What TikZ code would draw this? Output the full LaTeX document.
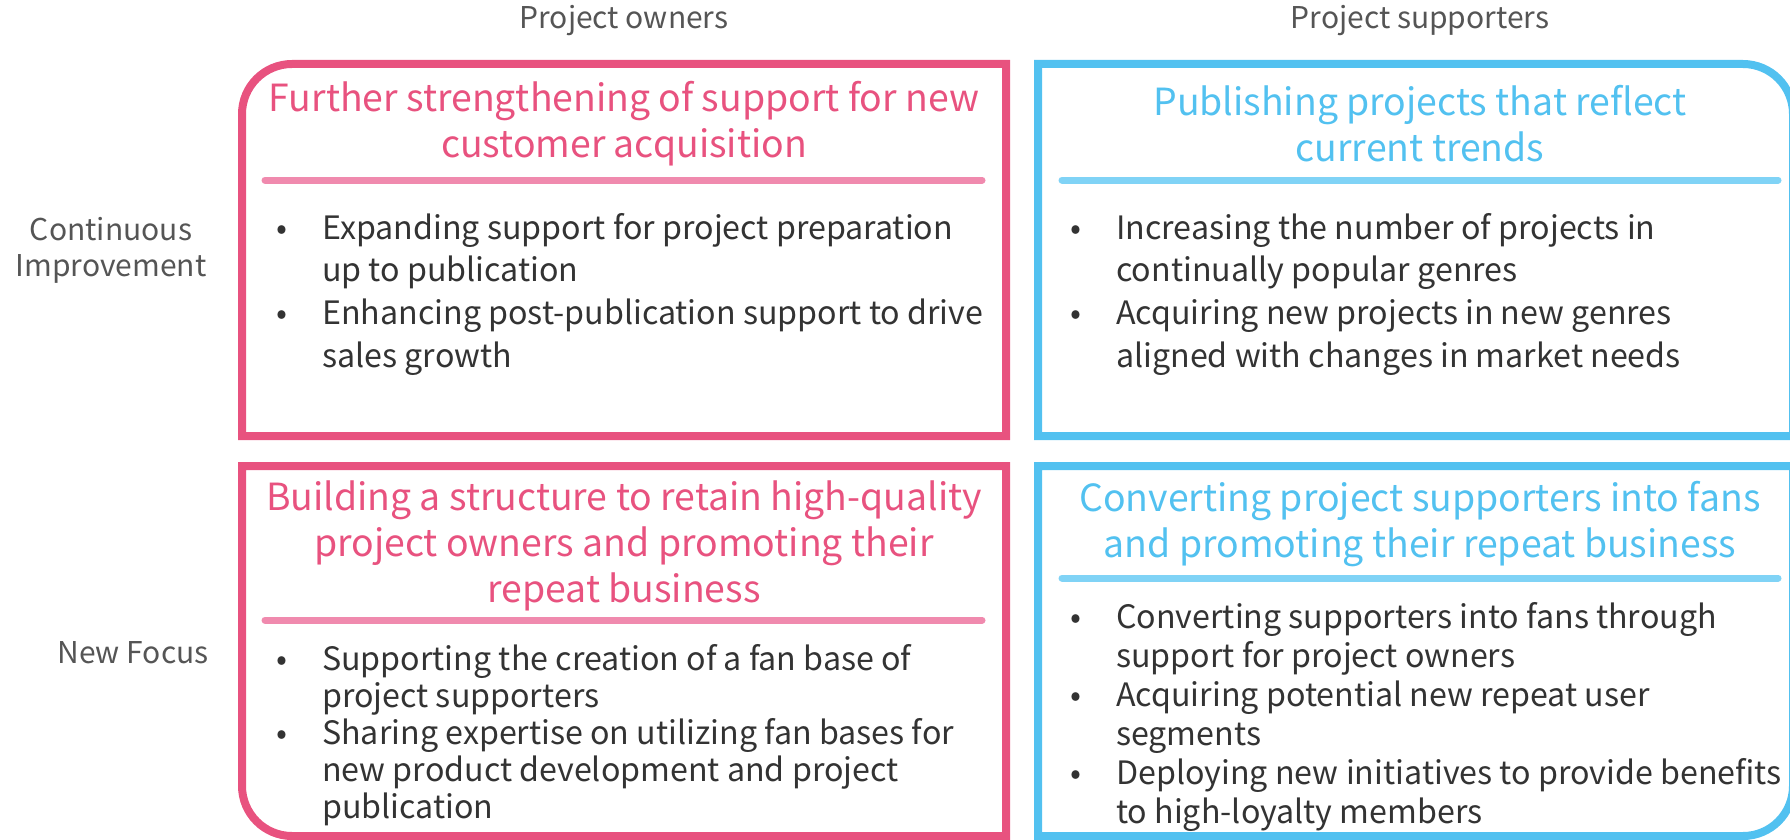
\documentclass[tikz,border=0pt]{standalone}
\usepackage{fontspec}
\setmainfont{Noto Sans CJK JP}
\usepackage{array}
\usetikzlibrary{positioning}

\definecolor{ownerpink}{HTML}{E8527F}
\definecolor{ownerrule}{HTML}{F08AAE}
\definecolor{supblue}{HTML}{52C1F0}
\definecolor{suprule}{HTML}{80D3F6}
\definecolor{bodygray}{HTML}{333333}
\definecolor{headgray}{HTML}{555555}

\tikzset{
  frame/.style={line width=8pt},
  sep/.style={line width=7pt, line cap=round},
  head/.style={text=headgray, align=center, font=\fontsize{30}{36}\selectfont},
  title/.style={align=center, font=\fontsize{37.4}{46}\selectfont},
  items/.style={anchor=north west, inner sep=0pt, text=bodygray, font=\fontsize{32.2}{#1}\selectfont},
}

\begin{document}
\begin{tikzpicture}[x=1pt, y=1pt]

    \clip (0,0) rectangle (1790,-840);

    \foreach \xpos / \txt / \name in { 624/{Project owners}/owners, 1420/{Project supporters}/supporters }
    \node [head] (\name) at (\xpos, -21) {\txt};
    \node [head] (continuous) at (111, -250) {Continuous\\Improvement};
    \node [head] (newfocus) at (133, -653) {New Focus};

    \draw [frame, ownerpink] (1006,-436) -| (242,-114) arc [start angle=180, end angle=90, radius=50] -- (1006,-64) -- cycle;
    \draw [frame, supblue] (1038,-436) |- (1743,-64) arc [start angle=90, end angle=0, radius=50] -- (1793,-436) -- cycle;
    \draw [frame, ownerpink] (1006,-466) -- (242,-466) -- (242,-786) arc [start angle=180, end angle=270, radius=50] -- (1006,-836) -- cycle;
    \draw [frame, supblue] (1038,-836) |- (1793,-466) -- (1793,-786) arc [start angle=0, end angle=-90, radius=50] -- cycle;

    \node [title, text=ownerpink] (acquisition) at (624, -124) {Further strengthening of support for new\\customer acquisition};
    \node [title, text=supblue] (trends) at (1420, -124) {Publishing projects that reflect\\current trends};
    \node [title, text=ownerpink] (retain) at (624, -546) {Building a structure to retain high-quality\\project owners and promoting their\\repeat business};
    \node [title, text=supblue] (fans) at (1420, -524) {Converting project supporters into fans\\and promoting their repeat business};

    \draw [sep, ownerrule] (265,-180) -- (982,-180);
    \draw [sep, suprule] (1062,-180) -- (1778,-180);
    \draw [sep, ownerrule] (265,-620) -- (982,-620);
    \draw [sep, suprule] (1062,-578) -- (1778,-578);

    \node [items=42.7] (acquisitionlist) at (276, -209) {\begin{tabular}{@{}p{46pt}@{}l@{}}
        \textbullet & Expanding support for project preparation\\ & up to publication\\
        \textbullet & Enhancing post-publication support to drive\\ & sales growth
    \end{tabular}};
    \node [items=42.7] (trendslist) at (1070, -209) {\begin{tabular}{@{}p{46pt}@{}l@{}}
        \textbullet & Increasing the number of projects in\\ & continually popular genres\\
        \textbullet & Acquiring new projects in new genres\\ & aligned with changes in market needs
    \end{tabular}};
    \node [items=37] (retainlist) at (276, -644) {\begin{tabular}{@{}p{46pt}@{}l@{}}
        \textbullet & Supporting the creation of a fan base of\\ & project supporters\\
        \textbullet & Sharing expertise on utilizing fan bases for\\ & new product development and project\\ & publication
    \end{tabular}};
    \node [items=39] (fanslist) at (1070, -601) {\begin{tabular}{@{}p{46pt}@{}l@{}}
        \textbullet & Converting supporters into fans through\\ & support for project owners\\
        \textbullet & Acquiring potential new repeat user\\ & segments\\
        \textbullet & Deploying new initiatives to provide benefits\\ & to high-loyalty members
    \end{tabular}};

\end{tikzpicture}
\end{document}
